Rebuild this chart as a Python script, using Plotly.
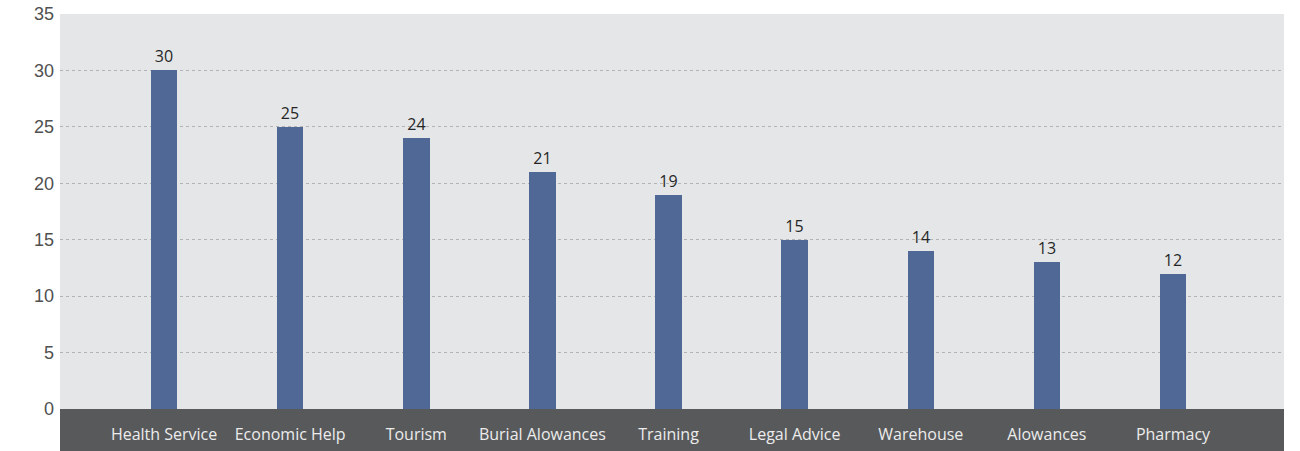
import plotly.graph_objects as go

# Services and the number of requests for each
categories = [
    "Health Service", "Economic Help", "Tourism", "Burial Alowances",
    "Training", "Legal Advice", "Warehouse", "Alowances", "Pharmacy",
]
values = [30, 25, 24, 21, 19, 15, 14, 13, 12]
y_ticks = [0, 5, 10, 15, 20, 25, 30, 35]

BAR = "#4f6896"
PLOT_BG = "#e5e6e8"
BAND = "#58595b"

fig = go.Figure(
    go.Bar(
        x=categories,
        y=values,
        width=0.21,
        marker=dict(color=BAR, line=dict(width=0)),
        text=values,
        texttemplate="%{text}",
        textposition="outside",
        cliponaxis=False,
        textfont=dict(family="Open Sans", size=16, color="#262626"),
    )
)

# dark band behind the category labels
fig.add_shape(
    type="rect", xref="paper", yref="paper",
    x0=0, x1=1, y0=-0.12, y1=0,
    fillcolor=BAND, line=dict(width=0), layer="below",
)

fig.update_layout(
    width=1300, height=451,
    margin=dict(l=60, r=16, t=14, b=42),
    paper_bgcolor="white",
    plot_bgcolor=PLOT_BG,
    showlegend=False,
    bargap=0,
    xaxis=dict(
        type="category",
        range=[-0.825, 8.88],
        automargin=False,
        showgrid=False, zeroline=False, showline=False,
        ticks="", ticklabelstandoff=14,
        tickfont=dict(family="Open Sans", size=16, color="#ececec"),
    ),
    yaxis=dict(
        range=[0, 35],
        tickvals=y_ticks,
        automargin=False,
        showgrid=True, gridcolor="#b3b3b3", griddash="3px,3px", gridwidth=1,
        zeroline=False, showline=False,
        ticks="", ticklabelstandoff=5,
        tickfont=dict(family="Liberation Sans", size=18, color="#505050"),
    ),
)

fig.write_html("out.html")
